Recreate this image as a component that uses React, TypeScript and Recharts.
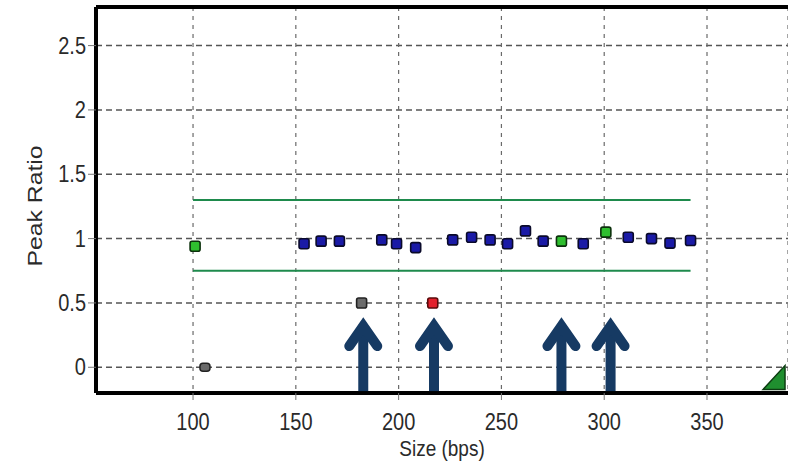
import React from 'react';
import { ScatterChart, Scatter, XAxis, YAxis, CartesianGrid, ReferenceLine, Label } from 'recharts';

// ---- data ----
const majorTicksX = [100, 150, 200, 250, 300, 350];
const minorTicksX = [62.5, 75, 87.5, 112.5, 125, 137.5, 162.5, 175, 187.5, 212.5, 225, 237.5, 262.5, 275, 287.5, 312.5, 325, 337.5, 362.5, 375, 387.5];
const ticksY = [0, 0.5, 1, 1.5, 2, 2.5];

const passSizes = [154, 162.3, 171.2, 191.8, 199, 208.3, 226.3, 235.5, 244.5, 253, 261.7, 270.3, 289.8, 311.7, 323, 332, 342];
const passRatios = [0.96, 0.98, 0.98, 0.99, 0.96, 0.93, 0.99, 1.01, 0.99, 0.96, 1.06, 0.98, 0.96, 1.01, 1.0, 0.965, 0.985];

const refSizes = [101, 279.2, 300.8];
const refRatios = [0.94, 0.98, 1.05];

const lowSizes = [182, 105.8];
const lowRatios = [0.5, 0];

const failSizes = [216.6];
const failRatios = [0.5];

const arrowSizes = [182.8, 217.2, 279.2, 303.1];
const arrowRatios = [0.39, 0.39, 0.39, 0.39];

const offscaleSizes = [382.6];
const offscaleRatios = [-0.08];

const upperLimit = 1.3;
const lowerLimit = 0.75;
const limitStart = 100;
const limitEnd = 342;

const toPts = (xs: number[], ys: number[]) => xs.map((x, i) => ({ x, y: ys[i] }));

const passData = toPts(passSizes, passRatios);
const refData = toPts(refSizes, refRatios);
const lowData = toPts(lowSizes, lowRatios);
const failData = toPts(failSizes, failRatios);
const arrowData = toPts(arrowSizes, arrowRatios);
const offData = toPts(offscaleSizes, offscaleRatios);

const FONT = '"Liberation Sans", Arial, sans-serif';
const TXT = '#2a2a2a';
const SY = 1.18;

const square = (fill: string, stroke: string) => (p: any) => (
  <rect x={p.cx - 5} y={p.cy - 5} width={10} height={10} rx={2} fill={fill} stroke={stroke} strokeWidth={1.6} />
);

const lowShape = (p: any) =>
  p.payload.y === 0 ? (
    <rect x={p.cx - 5} y={p.cy - 4} width={10} height={8} rx={3} fill="#6a6a6a" stroke="#222" strokeWidth={1.5} />
  ) : (
    <rect x={p.cx - 5} y={p.cy - 5} width={10} height={10} rx={2} fill="#6c6c6c" stroke="#222" strokeWidth={1.6} />
  );

const arrowShape = (p: any) => (
  <g>
    <line x1={p.cx} y1={p.cy + 12} x2={p.cx} y2={p.cy + 74} stroke="#163a63" strokeWidth={10} />
    <path
      d={`M ${p.cx - 14} ${p.cy + 29} L ${p.cx} ${p.cy + 9} L ${p.cx + 14} ${p.cy + 29}`}
      fill="none"
      stroke="#163a63"
      strokeWidth={10}
      strokeLinecap="round"
      strokeLinejoin="miter"
    />
  </g>
);

const triShape = (p: any) => (
  <path
    d={`M ${p.cx - 11} ${p.cy + 12} L ${p.cx + 11} ${p.cy + 12} L ${p.cx + 11} ${p.cy - 12} Z`}
    fill="#1f8f2f"
    stroke="#0d3d12"
    strokeWidth={1.5}
  />
);

const XTick = (p: any) => (
  <g transform={`translate(${p.x},${p.y + 28})`}>
    <text textAnchor="middle" transform={`scale(1,${SY})`} fontSize={20} fontFamily={FONT} fill={TXT}>
      {p.payload.value}
    </text>
  </g>
);

const YTick = (p: any) => (
  <g transform={`translate(${p.x},${p.y + 8})`}>
    <text textAnchor="end" transform={`scale(1,${SY})`} fontSize={20} fontFamily={FONT} fill={TXT}>
      {p.payload.value}
    </text>
  </g>
);

const EmptyTick = () => <g />;

const XLabel = (p: any) => {
  const vb = p.viewBox || { x: 96, y: 393, width: 692 };
  return (
    <g transform={`translate(${vb.x + vb.width / 2},${vb.y + 63})`}>
      <text textAnchor="middle" transform={`scale(1,${SY})`} fontSize={19} fontFamily={FONT} fill={TXT}>
        Size (bps)
      </text>
    </g>
  );
};

const YLabel = (p: any) => {
  const vb = p.viewBox || { x: 0, y: 7, width: 96, height: 386 };
  return (
    <g transform={`translate(${vb.x + 42},${vb.y + vb.height / 2 + 6}) scale(1,${SY}) rotate(-90)`}>
      <text textAnchor="middle" fontSize={21} fontFamily={FONT} fill={TXT}>
        Peak Ratio
      </text>
    </g>
  );
};

export default function App() {
  return (
    <div style={{ position: 'absolute', left: 0, top: 0, width: 788, height: 462, background: '#fff' }}>
      <ScatterChart width={788} height={462} margin={{ top: 7, right: 0, bottom: 0, left: 0 }}>
        <CartesianGrid vertical={false} stroke="#555" strokeDasharray="6 4" strokeWidth={1.5} />
        <CartesianGrid horizontal={false} stroke="#6a6a6a" strokeDasharray="4 5" strokeWidth={1.2} />
        <XAxis
          xAxisId="minor"
          dataKey="x"
          type="number"
          domain={[52.8, 389.4]}
          allowDataOverflow
          ticks={minorTicksX}
          height={0}
          axisLine={false}
          tickLine={{ stroke: '#aaa' }}
          tickSize={5}
          tick={EmptyTick}
          interval={0}
        />
        <XAxis
          dataKey="x"
          type="number"
          domain={[52.8, 389.4]}
          allowDataOverflow
          ticks={majorTicksX}
          height={69}
          axisLine={{ stroke: '#000', strokeWidth: 4 }}
          tickLine={{ stroke: '#777' }}
          tickSize={7}
          tick={XTick}
          interval={0}
        >
          <Label content={XLabel} />
        </XAxis>
        <YAxis
          dataKey="y"
          type="number"
          domain={[-0.2, 2.8]}
          allowDataOverflow
          ticks={ticksY}
          width={96}
          axisLine={{ stroke: '#000', strokeWidth: 4 }}
          tickLine={{ stroke: '#777' }}
          tickSize={8}
          tickMargin={2}
          tick={YTick}
          interval={0}
        >
          <Label content={YLabel} />
        </YAxis>
        <ReferenceLine y={2.8} stroke="#000" strokeWidth={4} />
        <ReferenceLine
          segment={[{ x: limitStart, y: upperLimit }, { x: limitEnd, y: upperLimit }]}
          stroke="#1e8a4c"
          strokeWidth={2}
        />
        <ReferenceLine
          segment={[{ x: limitStart, y: lowerLimit }, { x: limitEnd, y: lowerLimit }]}
          stroke="#1e8a4c"
          strokeWidth={2}
        />
        <Scatter data={arrowData} shape={arrowShape} isAnimationActive={false} />
        <Scatter data={passData} shape={square('#1a1aa6', '#0a0a2a')} isAnimationActive={false} />
        <Scatter data={refData} shape={square('#2fbf2f', '#0c300c')} isAnimationActive={false} />
        <Scatter data={lowData} shape={lowShape} isAnimationActive={false} />
        <Scatter data={failData} shape={square('#e3202c', '#5a0a0a')} isAnimationActive={false} />
        <Scatter data={offData} shape={triShape} isAnimationActive={false} />
      </ScatterChart>
    </div>
  );
}
